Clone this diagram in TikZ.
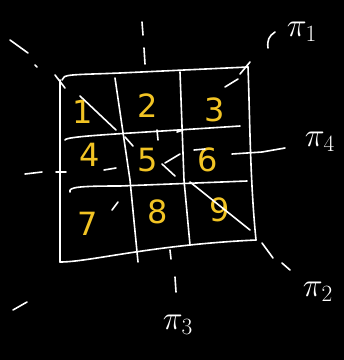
\documentclass[tikz,border=0pt]{standalone}
\usepackage{fontspec}
\setmainfont{DejaVu Sans}
\definecolor{digit}{RGB}{242,196,36}
\begin{document}
\begin{tikzpicture}[x=1pt,y=-1pt,
  grid/.style={draw=white,line width=1.6pt,line cap=round,line join=round},
  axis/.style={draw=white,line width=1.6pt,line cap=round},
  num/.style={text=digit,font=\fontsize{32}{32}\selectfont,inner sep=0pt},
  lab/.style={text=white,font=\fontsize{24}{24}\selectfont,inner sep=0pt,scale=1.35}]
\fill[black] (0,0) rectangle (344,360);
\useasboundingbox (0,0) rectangle (344,360);
% outer frame
\draw[grid] (62,80) .. controls (63,74) and (70,75) .. (120,73) -- (248,67);
\draw[grid] (248,67) .. controls (250,120) and (250,180) .. (256,240);
\draw[grid] (60,80) -- (60,262);
\draw[grid] (60,262) .. controls (90,262) and (150,245) .. (256,240);
% inner verticals
\draw[grid] (115,78) -- (130,180) -- (138,262);
\draw[grid] (180,72) -- (184,180) -- (190,245);
% inner horizontals
\draw[grid] (65,140) .. controls (66,136) and (120,134) .. (240,126);
\draw[grid] (70,192) .. controls (68,187) and (80,186) .. (120,186) -- (247,181);
% numbers
\node[num] (n1) at (83,112) {1};
\node[num] (n2) at (148,106) {2};
\node[num] (n3) at (215,110) {3};
\node[num] (n4) at (90,155) {4};
\node[num] (n5) at (148,160) {5};
\node[num] (n6) at (208,160) {6};
\node[num] (n7) at (88,224) {7};
\node[num] (n8) at (158,212) {8};
\node[num] (n9) at (220,210) {9};
% pi3 vertical axis
\draw[axis] (142,22) -- (143,35);
\draw[axis] (144,48) -- (145,64);
\draw[axis] (157,130) -- (158,140);
\draw[axis] (170,250) -- (171,259);
\draw[axis] (175,277) -- (176,292);
% pi4 horizontal axis
\draw[axis] (25,174) -- (42,172);
\draw[axis] (56,172) -- (66,172);
\draw[axis] (104,170) -- (116,168);
\draw[axis] (194,150) -- (205,149);
\draw[axis] (232,154) -- (262,152) -- (285,148);
% pi2 diagonal (top-left to bottom-right)
\draw[axis] (10,40) -- (28,53);
\draw[axis] (35,65) -- (37,67);
\draw[axis] (55,75) -- (65,88);
\draw[axis] (80,96) -- (116,130);
\draw[axis] (125,137) -- (133,146);
\draw[axis] (162,164) -- (175,176);
\draw[axis] (190,182) -- (250,230);
\draw[axis] (262,243) -- (273,258);
\draw[axis] (282,263) -- (290,270);
% pi1 diagonal (top-right to bottom-left)
\draw[axis] (240,74) -- (250,62);
\draw[axis] (225,87) -- (238,79);
\draw[axis] (177,132) -- (183,130);
\draw[axis] (165,163) -- (180,154);
\draw[axis] (112,210) -- (118,202);
\draw[axis] (13,310) -- (27,302);
\draw[axis] (268,48) .. controls (267,40) and (269,36) .. (275,32);
% labels
\node[lab] (p1) at (302,32) {$\pi_1$};
\node[lab] (p2) at (318,292) {$\pi_2$};
\node[lab] (p3) at (178,325) {$\pi_3$};
\node[lab] (p4) at (320,142) {$\pi_4$};
\end{tikzpicture}
\end{document}
